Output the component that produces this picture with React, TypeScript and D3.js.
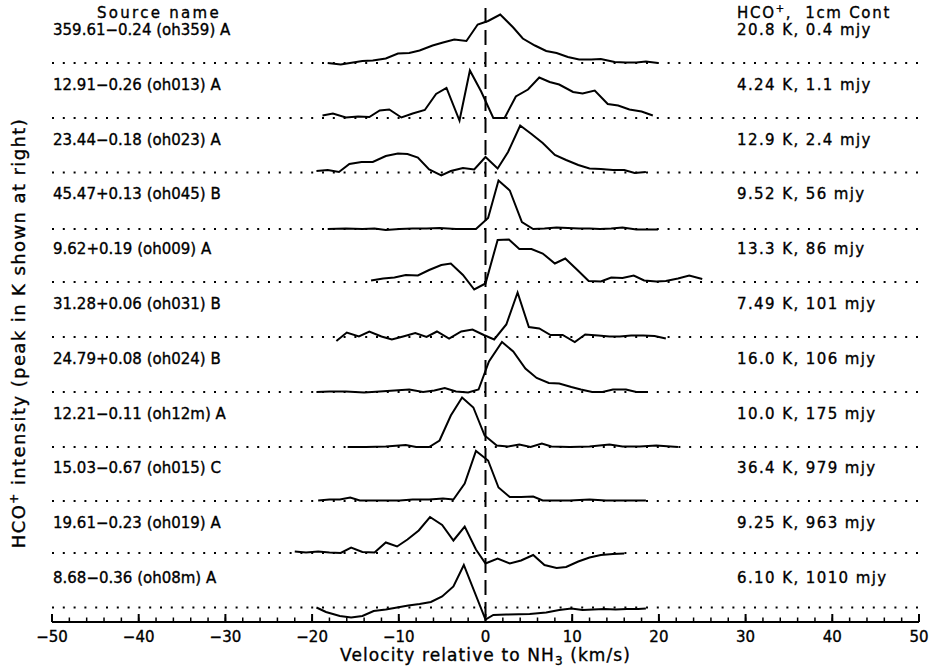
import React from "react";
import * as d3 from "d3";

type Pt = [number, number];

// Source names (left) and HCO+ peak / 1cm continuum (right), top to bottom
const sourceNames = [
  "359.61\u22120.24 (oh359) A",
  "12.91\u22120.26 (oh013) A",
  "23.44\u22120.18 (oh023) A",
  "45.47+0.13 (oh045) B",
  "9.62+0.19 (oh009) A",
  "31.28+0.06 (oh031) B",
  "24.79+0.08 (oh024) B",
  "12.21\u22120.11 (oh12m) A",
  "15.03\u22120.67 (oh015) C",
  "19.61\u22120.23 (oh019) A",
  "8.68\u22120.36 (oh08m) A",
];
const peakLabels = [
  "20.8 K, 0.4 mjy",
  "4.24 K, 1.1 mjy",
  "12.9 K, 2.4 mjy",
  "9.52 K, 56 mjy",
  "13.3 K, 86 mjy",
  "7.49 K, 101 mjy",
  "16.0 K, 106 mjy",
  "10.0 K, 175 mjy",
  "36.4 K, 979 mjy",
  "9.25 K, 963 mjy",
  "6.10 K, 1010 mjy",
];
// vertical offset of each spectrum's zero level (stack units)
const offsets = [11.18, 10.08, 8.99, 7.86, 6.8, 5.7, 4.6, 3.5, 2.42, 1.38, 0.29];

const xTicks = d3.range(-50, 51, 10);
const xMinorTicks = d3.range(-50, 51, 2);

// spectra: [velocity km/s, normalised intensity]
const oh359: Pt[] = [[-18.2,0],[-16.7,-0.03],[-14.2,0.04],[-13.0,0.05],[-11.5,0.09],[-10.1,0.19],[-8.8,0.2],[-7.6,0.25],[-6.1,0.35],[-4.9,0.41],[-3.6,0.47],[-2.2,0.44],[-0.9,0.77],[0.3,0.84],[1.7,0.97],[3.2,0.71],[4.3,0.49],[5.7,0.35],[7.0,0.24],[8.2,0.2],[9.5,0.12],[10.8,0.07],[12.2,0.07],[13.3,0.08],[14.9,0.02],[16.2,0.01],[17.4,0.01],[18.5,0.03],[19.9,0]];
const oh013: Pt[] = [[-18.8,0.05],[-17.6,0.09],[-16.1,0.01],[-14.7,0.03],[-13.4,0.02],[-12.2,0.15],[-11.1,0.17],[-9.7,0.01],[-8.4,0.09],[-7.0,0.16],[-5.7,0.48],[-4.5,0.6],[-3.0,-0.05],[-1.8,0.95],[-0.5,0.53],[0.9,0],[2.2,0],[3.5,0.43],[4.9,0.57],[6.2,0.81],[7.4,0.72],[8.5,0.67],[10.1,0.52],[11.2,0.49],[12.6,0.55],[14.1,0.28],[15.3,0.25],[16.6,0.17],[18.0,0.13],[19.3,0.05]];
const oh023: Pt[] = [[-19.5,0.03],[-18.2,0.05],[-16.9,0.01],[-15.7,0.17],[-14.3,0.21],[-13.0,0.21],[-11.5,0.33],[-10.1,0.38],[-9.0,0.37],[-7.8,0.3],[-6.5,0.06],[-5.1,-0.06],[-4.0,0.03],[-2.6,0.09],[-1.3,0.06],[0.0,0.31],[1.4,0.08],[2.6,0.41],[4.0,0.94],[5.3,0.77],[6.6,0.59],[8.0,0.35],[9.3,0.25],[10.7,0.15],[12.0,0.08],[13.3,0.07],[14.7,0.05],[16.0,0.05],[17.2,-0.01],[18.5,0.01]];
const oh045: Pt[] = [[-18.2,0],[-16.1,0.01],[-14.2,0],[-12.8,0.01],[-11.5,-0.02],[-9.9,0],[-8.4,0.01],[-6.8,0.01],[-5.3,0.02],[-3.4,0],[-1.1,0],[0.3,0.22],[1.5,0.97],[2.8,0.77],[4.2,0.14],[5.5,0],[6.8,0.01],[8.2,0.03],[9.5,0.02],[10.8,0.01],[12.0,0.01],[13.2,0],[14.5,0.01],[15.8,0.03],[17.4,-0.01],[18.6,-0.01],[19.9,-0.01]];
const oh009: Pt[] = [[-13.2,0.03],[-11.8,0.07],[-10.5,0.09],[-9.2,0.14],[-7.8,0.13],[-6.5,0.24],[-5.1,0.34],[-4.0,0.37],[-2.6,0.14],[-1.3,-0.15],[0.0,-0.03],[1.4,0.84],[2.7,0.85],[3.9,0.66],[5.3,0.66],[6.6,0.57],[8.0,0.37],[9.2,0.47],[10.6,0.24],[11.9,0.02],[13.3,0.01],[14.5,0.09],[15.8,0.08],[17.1,0.13],[18.3,0.03],[19.7,0.01],[20.8,0.02],[22.2,0.07],[23.5,0.13],[25.0,0.06]];
const oh031: Pt[] = [[-17.2,-0.08],[-16.0,0.09],[-14.6,0.01],[-13.4,0.11],[-12.0,0.01],[-10.8,-0.05],[-9.5,0.01],[-8.1,0.08],[-6.8,0],[-5.6,0.11],[-4.2,-0.03],[-2.8,0.11],[-1.5,0.15],[-0.2,0.04],[1.0,-0.05],[2.4,0.25],[3.7,0.89],[5.0,0.2],[6.2,0.17],[7.5,0.04],[8.9,0.04],[10.3,-0.1],[11.5,0.05],[13.0,0.03],[14.3,0.01],[15.5,0.01],[16.8,0.03],[18.2,0.03],[19.5,0.02],[20.8,-0.03]];
const oh024: Pt[] = [[-19.5,0],[-18.0,0.01],[-16.1,0.01],[-14.0,-0.01],[-12.2,0.01],[-10.5,0.03],[-8.8,0.05],[-7.2,0],[-5.9,0.03],[-4.7,0.08],[-3.4,0.01],[-2.0,-0.01],[-0.8,0.05],[0.4,0.61],[1.9,1.0],[3.2,0.81],[4.6,0.47],[5.9,0.28],[7.3,0.18],[8.5,0.17],[9.9,0.1],[11.0,0.05],[12.3,0],[13.5,0],[14.7,0.05],[16.2,0.05],[17.4,0],[18.7,0]];
const oh12m: Pt[] = [[-15.9,0],[-13.8,0],[-11.5,0.01],[-9.2,0.04],[-8.0,0],[-6.5,0],[-5.3,0.13],[-4.0,0.63],[-2.7,0.99],[-1.4,0.79],[-0.1,0.23],[1.3,0.03],[2.6,0.01],[3.9,0.05],[5.2,0],[6.5,0.07],[7.6,0.01],[9.7,0],[12.0,0.01],[14.3,0.05],[15.8,0.01],[17.8,0.01],[19.7,0.03],[22.2,0]];
const oh015: Pt[] = [[-19.3,0.01],[-18.0,0.03],[-16.8,0.03],[-15.6,0.07],[-14.5,0.01],[-13.0,0.01],[-11.5,0.01],[-9.9,0.01],[-8.4,0.03],[-6.5,0.03],[-4.9,0.05],[-3.7,0.03],[-2.4,0.35],[-1.1,1.0],[0.3,0.81],[1.5,0.27],[2.8,0.08],[4.1,0.08],[5.5,0.09],[6.6,0.01],[8.2,0.01],[9.7,0.01],[12.0,0.03],[13.9,0.01],[16.2,0.01],[18.5,0.01]];
const oh019: Pt[] = [[-22.0,0.03],[-20.7,0.01],[-19.3,0.03],[-18.0,0.01],[-16.7,0],[-15.5,0.11],[-14.2,0.02],[-12.8,0.01],[-11.5,0.21],[-10.2,0.13],[-9.0,0.27],[-7.7,0.45],[-6.4,0.72],[-5.0,0.56],[-3.7,0.25],[-2.4,0.53],[-1.1,0.07],[0.0,-0.21],[1.4,-0.11],[2.8,-0.21],[4.1,-0.15],[5.5,-0.04],[6.8,-0.24],[8.2,-0.3],[9.3,-0.28],[10.7,-0.17],[12.0,-0.09],[13.3,-0.04],[14.7,-0.02],[16.0,-0.01]];
const oh08m: Pt[] = [[-19.5,0],[-18.4,-0.09],[-16.8,-0.17],[-15.5,-0.2],[-14.2,-0.17],[-12.9,-0.07],[-11.5,-0.04],[-10.2,0.0],[-8.9,0.04],[-7.6,0.07],[-6.3,0.11],[-5.0,0.22],[-3.7,0.42],[-2.5,0.85],[0.0,-0.24],[0.9,-0.15],[2.4,-0.14],[5.1,-0.13],[7.0,-0.1],[8.5,-0.05],[9.9,-0.02],[11.2,-0.05],[12.4,-0.04],[13.7,-0.03],[15.0,-0.04],[16.3,-0.03],[17.6,-0.03],[18.5,-0.02]];

const spectra: Pt[][] = [oh359, oh013, oh023, oh045, oh009, oh031, oh024, oh12m, oh015, oh019, oh08m];

const FONT = "'DejaVu Sans', Verdana, sans-serif";
const TXT = { stroke: "#000", strokeWidth: 0.35 };

export default function App() {
  const width = 935;
  const height = 669;
  const x = d3.scaleLinear().domain([-50, 50]).range([52, 919]);
  const y = d3.scaleLinear().domain([0, 12.44]).range([622, 0]);
  const rowY = d3.scaleLinear().domain([0, sourceNames.length - 1]).range([30, 578]);
  const axisY = y(0);

  return (
    <svg
      width={width}
      height={height}
      viewBox={`0 0 ${width} ${height}`}
      style={{ position: "absolute", left: 0, top: 0, background: "#fff" }}
      fontFamily={FONT}
    >
      <rect x={0} y={0} width={width} height={height} fill="#fff" />

      {/* dotted baselines */}
      {offsets.map((o, i) => (
        <line
          key={"b" + i}
          x1={x(-50)}
          x2={x(50)}
          y1={y(o)}
          y2={y(o)}
          stroke="#000"
          strokeWidth={2}
          strokeDasharray="2 8.8"
        />
      ))}

      {/* vertical dashed line at v = 0 */}
      <line
        x1={x(0)}
        x2={x(0)}
        y1={8}
        y2={axisY}
        stroke="#000"
        strokeWidth={2}
        strokeDasharray="15 7"
      />

      {/* spectra */}
      {spectra.map((s, i) => {
        const line = d3
          .line<Pt>()
          .x((d) => x(d[0]))
          .y((d) => y(offsets[i] + d[1]));
        return (
          <path
            key={"s" + i}
            d={line(s) || ""}
            fill="none"
            stroke="#000"
            strokeWidth={2}
            strokeLinejoin="miter"
          />
        );
      })}

      {/* x axis */}
      <line x1={x(-50)} x2={x(50)} y1={axisY} y2={axisY} stroke="#000" strokeWidth={2} />
      {xMinorTicks.map((t) => (
        <line key={"m" + t} x1={x(t)} x2={x(t)} y1={axisY} y2={axisY - 4.5} stroke="#000" strokeWidth={1.5} />
      ))}
      {xTicks.map((t) => (
        <line key={"t" + t} x1={x(t)} x2={x(t)} y1={axisY} y2={axisY - 8} stroke="#000" strokeWidth={2} />
      ))}
      {xTicks.map((t) => (
        <text key={"l" + t} x={x(t)} y={axisY + 20} textAnchor="middle" fontSize={15} {...TXT}>
          {t < 0 ? "\u2212" + Math.abs(t) : String(t)}
        </text>
      ))}
      <text x={x(0)} y={axisY + 39} textAnchor="middle" fontSize={17} letterSpacing={1.1} {...TXT}>
        Velocity relative to NH
        <tspan dy={4} fontSize={12}>3</tspan>
        <tspan dy={-4}> (km/s)</tspan>
      </text>

      {/* y axis title */}
      <text
        transform={`translate(25, ${y(5.78)}) rotate(-90)`}
        textAnchor="middle"
        fontSize={18}
        letterSpacing={1.4}
        {...TXT}
      >
        HCO
        <tspan dy={-7} fontSize={12}>+</tspan>
        <tspan dy={7}> intensity (peak in K shown at right)</tspan>
      </text>

      {/* headers */}
      <text x={159} y={rowY(0) - 12} textAnchor="middle" fontSize={15} letterSpacing={2.3} {...TXT}>
        Source name
      </text>
      <text x={737} y={rowY(0) - 12} fontSize={15} letterSpacing={1.7} xmlSpace="preserve" {...TXT}>
        HCO
        <tspan dy={-6} fontSize={10}>+</tspan>
        <tspan dy={6}>,  1cm Cont</tspan>
      </text>

      {/* row labels */}
      {sourceNames.map((n, i) => (
        <text key={"n" + i} x={53} y={rowY(i) + 5} fontSize={15} {...TXT}>
          {n}
        </text>
      ))}
      {peakLabels.map((n, i) => (
        <text key={"p" + i} x={737} y={rowY(i) + 5} fontSize={15} letterSpacing={1.4} {...TXT}>
          {n}
        </text>
      ))}
    </svg>
  );
}
